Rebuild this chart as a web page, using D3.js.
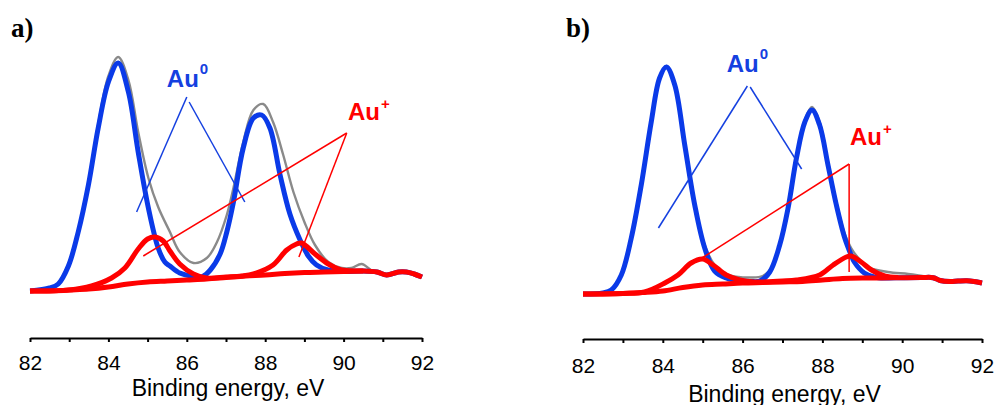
<!DOCTYPE html>
<html>
<head>
<meta charset="utf-8">
<script src="https://cdn.jsdelivr.net/npm/d3@7"></script>
<style>
  html, body { margin: 0; padding: 0; background: #fff; }
  svg { display: block; }
</style>
</head>
<body>
<svg id="chart" width="995" height="405"></svg>
<script>
// Binding energy axis (eV)
const energyTicks  = [82, 83, 84, 85, 86, 87, 88, 89, 90, 91, 92];
const energyLabels = ["82", "", "84", "", "86", "", "88", "", "90", "", "92"];
const axisTitle = "Binding energy, eV";

// ---- Panel a) : Au 4f spectrum, [binding energy eV, intensity a.u.] ----
const aBackground = [[82,9],[82.5,9],[83,10],[83.5,11],[84,13],[84.5,16],[85,18],[85.5,19],[86,20],[86.5,21],
  [87,22.5],[87.5,24],[88,25],[88.5,26.5],[89,27.5],[89.5,28],[90,28.5],[90.5,29],[90.85,28],[91.1,25],
  [91.4,28],[91.6,28],[91.8,26],[92,23]];
const aEnvelope = [[82,9],[82.5,12],[82.72,17],[82.98,36],[83.23,70],[83.49,118],[83.74,176],[84.0,224],
  [84.25,243],[84.51,220],[84.76,168],[85.02,122],[85.27,93],[85.57,68],[85.82,48],[86.17,37],[86.51,42],
  [86.77,58],[87.02,85],[87.19,112],[87.44,158],[87.70,190],[87.95,196],[88.2,178],[88.46,145],[88.72,108],
  [89.0,78],[89.27,55],[89.61,38],[89.95,32],[90.2,32],[90.46,36],[90.7,30],[90.85,28],[91.1,25],[91.4,28],
  [91.6,28],[91.8,26],[92,23]];
const aAu0 = [[82,9],[82.5,12],[82.72,16],[82.98,34],[83.23,68],[83.49,115],[83.74,172],[84.0,218],[84.25,237],
  [84.51,208],[84.76,148],[85.02,92],[85.27,52],[85.44,38],[85.57,34],[85.82,27],[86.1,24],[86.4,23.5],
  [86.6,30],[86.85,46],[87.02,68],[87.19,98],[87.44,152],[87.70,182],[87.91,185],[88.12,172],[88.38,125],
  [88.63,86],[88.89,60],[89.1,44],[89.31,35],[89.6,30],[90.0,28.5],[90.5,29],[90.85,28],[91.1,25],[91.4,28],
  [91.6,28],[91.8,26],[92,23]];
const aAu1 = [[82,9],[83,10],[83.57,14],[84.08,22],[84.42,32],[84.76,51],[85.0,61],[85.19,63],[85.4,59],
  [85.57,49],[85.82,36],[86.17,26],[86.5,22],[87.0,23],[87.4,24],[87.7,26],[88.2,35],[88.55,50],[88.8,56],
  [88.93,57],[89.27,46],[89.61,36],[89.95,30],[90.3,29],[90.5,29]];
const aAu0Leaders = [[[86.0,203],[84.72,88]], [[86.06,198],[87.48,98]]];
const aAu1Leaders = [[[90.08,167],[84.89,44]], [[90.08,167],[88.86,43]]];
const aAu0Label = [85.49, 213];
const aAu1Label = [90.11, 180];

// ---- Panel b) ----
const bBackground = [[82,6],[82.5,6],[83,6.5],[83.5,7.5],[84,9],[84.5,12.5],[85,15],[85.5,16],[86,17],[86.5,17.5],
  [87,18],[87.5,18.5],[88,20],[88.5,21.5],[89,22],[89.5,22],[90,22.3],[90.5,22.5],[90.78,22.3],[90.95,19.5],
  [91.2,18.5],[91.4,19],[91.62,19.3],[91.8,18.5],[92,17]];
const bEnvelope = [[82,6],[82.5,7],[82.71,10],[82.96,25],[83.21,62],[83.46,115],[83.71,178],[83.92,223],
  [84.09,234],[84.30,216],[84.55,157],[84.80,97],[85.05,55],[85.30,35],[85.59,26],[85.9,23],[86.2,22.5],
  [86.5,24],[86.75,33],[86.93,57],[87.14,93],[87.35,143],[87.56,180],[87.74,193],[87.93,178],[88.14,138],
  [88.35,98],[88.56,66],[88.72,52],[88.9,42],[89.14,33],[89.64,28],[90.15,26],[90.5,24],[90.78,22.3],
  [90.95,19.5],[91.2,18.5],[91.4,19],[91.62,19.3],[91.8,18.5],[92,17]];
const bAu0 = [[82,6],[82.5,7],[82.71,10],[82.96,25],[83.21,62],[83.46,115],[83.71,178],[83.92,222],[84.09,233],
  [84.30,215],[84.55,155],[84.80,95],[85.05,52],[85.30,29],[85.59,22],[85.93,19],[86.2,18.5],[86.43,19],
  [86.68,28],[86.93,55],[87.14,92],[87.35,142],[87.56,178],[87.74,190],[87.93,175],[88.14,135],[88.35,95],
  [88.56,62],[88.72,45],[88.8,38],[89.05,27],[89.3,23],[89.6,22],[90,22.3],[90.5,22.5],[90.78,22.3],
  [90.95,19.5],[91.2,18.5],[91.4,19],[91.62,19.3],[91.8,18.5],[92,17]];
const bAu1 = [[82,6],[83,6.5],[83.54,8],[84.05,17],[84.38,25],[84.71,37],[85.0,41],[85.26,35],[85.59,25],
  [85.93,20],[86.3,18],[87.0,19],[87.35,20],[87.93,25],[88.27,35],[88.60,43],[88.72,44],[88.97,38],
  [89.23,30],[89.56,24],[89.9,22.5]];
const bAu0Leaders = [[[86.12,214],[83.89,72]], [[86.19,213],[87.48,131]]];
const bAu1Leaders = [[[88.67,136],[84.98,42]], [[88.67,136],[88.67,28]]];
const bAu0Label = [85.60, 228];
const bAu1Label = [88.69, 155];

// ---- drawing ----
const COLORS = { envelope: "#8a8a8a", au0: "#0a3ae8", au1: "#ff0000", au0Text: "#1540e0", axis: "#000" };
const SANS = "'Liberation Sans', Arial, Helvetica, sans-serif";
const SERIF = "'Liberation Serif', 'Times New Roman', serif";

const panels = [
  { tag: "a)", tagX: 11, tagY: 37, x0: 30, x1: 422, axisY: 338, labelPad: 13, titleY: 396,
    envelope: aEnvelope, au0: aAu0, au1: aAu1, bg: aBackground,
    au0Leaders: aAu0Leaders, au1Leaders: aAu1Leaders, au0Label: aAu0Label, au1Label: aAu1Label },
  { tag: "b)", tagX: 566, tagY: 37, x0: 583, x1: 982, axisY: 339, labelPad: 15, titleY: 402,
    envelope: bEnvelope, au0: bAu0, au1: bAu1, bg: bBackground,
    au0Leaders: bAu0Leaders, au1Leaders: bAu1Leaders, au0Label: bAu0Label, au1Label: bAu1Label }
];

const svg = d3.select("#chart");

panels.forEach(p => {
  const x = d3.scaleLinear().domain([82, 92]).range([p.x0, p.x1]);
  const y = d3.scaleLinear().domain([0, 250]).range([300, 50]);
  const line = d3.line()
    .x(d => x(d[0])).y(d => y(d[1]))
    .curve(d3.curveCatmullRom.alpha(0.5));
  const g = svg.append("g");

  const curve = (data, color, width) => g.append("path").datum(data)
    .attr("d", line).attr("fill", "none").attr("stroke", color)
    .attr("stroke-width", width).attr("stroke-linejoin", "round");

  curve(p.envelope, COLORS.envelope, 2.4);
  curve(p.au0, COLORS.au0, 5);
  curve(p.au1, COLORS.au1, 5);
  curve(p.bg, COLORS.au1, 5);

  // leader lines
  const seg = d3.line().x(d => x(d[0])).y(d => y(d[1]));
  p.au0Leaders.forEach(l => g.append("path").attr("d", seg(l))
    .attr("stroke", COLORS.au0Text).attr("stroke-width", 1.5).attr("fill", "none"));
  p.au1Leaders.forEach(l => g.append("path").attr("d", seg(l))
    .attr("stroke", COLORS.au1).attr("stroke-width", 1.5).attr("fill", "none"));

  // species labels
  const label = (pos, color, sup, supDy) => {
    const t = g.append("text").attr("x", x(pos[0])).attr("y", y(pos[1]))
      .attr("font-family", SANS).attr("font-weight", "bold").attr("fill", color);
    t.append("tspan").attr("font-size", 24).text("Au");
    t.append("tspan").attr("font-size", 15).attr("dx", 1).attr("dy", supDy).text(sup);
  };
  label(p.au0Label, COLORS.au0Text, "0", -13);
  label(p.au1Label, COLORS.au1, "+", -11);

  // panel tag
  g.append("text").attr("x", p.tagX).attr("y", p.tagY)
    .attr("font-family", SERIF).attr("font-weight", "bold").attr("font-size", 27)
    .attr("fill", "#000").text(p.tag);

  // energy axis
  const axis = d3.axisBottom(x).tickValues(energyTicks)
    .tickFormat((d, i) => energyLabels[i])
    .tickSize(4).tickSizeOuter(0).tickPadding(p.labelPad);
  const ga = g.append("g").attr("transform", `translate(0,${p.axisY})`).call(axis);
  ga.select(".domain").attr("stroke", COLORS.axis).attr("stroke-width", 2);
  ga.selectAll(".tick line").attr("stroke", COLORS.axis).attr("stroke-width", 2);
  ga.selectAll(".tick text").attr("font-family", SANS).attr("font-size", 21).attr("fill", "#000");

  g.append("text").attr("x", (p.x0 + p.x1) / 2 + 2).attr("y", p.titleY)
    .attr("text-anchor", "middle").attr("font-family", SANS).attr("font-size", 23)
    .attr("fill", "#000").text(axisTitle);
});
</script>
</body>
</html>
